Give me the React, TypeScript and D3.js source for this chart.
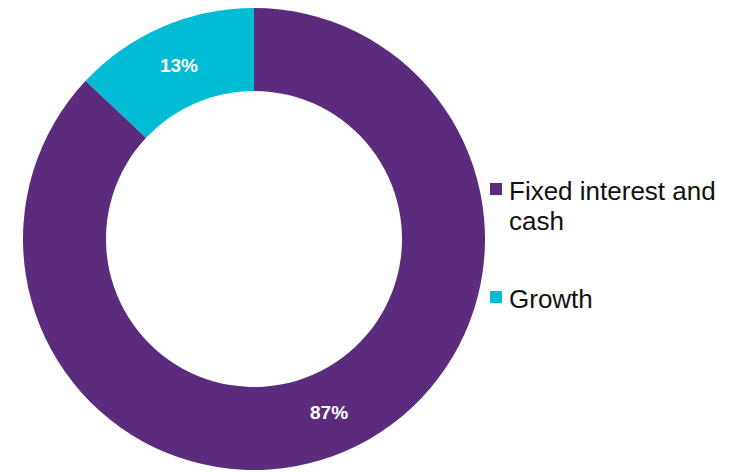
import React from "react";
import * as d3 from "d3";

const categories = ["Fixed interest and cash", "Growth"];
const values = [87, 13];
const labels = ["87%", "13%"];
const legendLines = [["Fixed interest and", "cash"], ["Growth"]];
const colors = ["#5B2C7E", "#00BCD5"];

export default function App() {
  const W = 742, H = 472;
  const cx = 254, cy = 239, outerR = 231, innerR = 148;
  const pie = d3.pie<number>().sort(null).value((d) => d)(values);
  const arc = d3.arc<d3.PieArcDatum<number>>().innerRadius(innerR).outerRadius(outerR);
  const labelArc = d3.arc<d3.PieArcDatum<number>>().innerRadius(189).outerRadius(189);
  const legendY = [183, 291];
  return (
    <svg width={W} height={H} style={{ position: "absolute", left: 0, top: 0 }} fontFamily="'Liberation Sans', Arial, sans-serif">
      <rect width={W} height={H} fill="#fff" />
      <g transform={`translate(${cx},${cy})`}>
        {pie.map((p, i) => (
          <path key={i} d={arc(p) || ""} fill={colors[i]} />
        ))}
        {pie.map((p, i) => {
          const [x, y] = labelArc.centroid(p);
          return (
            <text key={i} x={x} y={y} dy="0.35em" textAnchor="middle" fill="#fff" fontWeight="bold" fontSize={19}>
              {labels[i]}
            </text>
          );
        })}
      </g>
      {categories.map((c, i) => (
        <g key={c}>
          <rect x={490} y={legendY[i]} width={12} height={12} fill={colors[i]} />
          {legendLines[i].map((line, j) => (
            <text key={j} x={509} y={legendY[i] + 17 + j * 30} fontSize={26} fill="#111">
              {line}
            </text>
          ))}
        </g>
      ))}
    </svg>
  );
}
